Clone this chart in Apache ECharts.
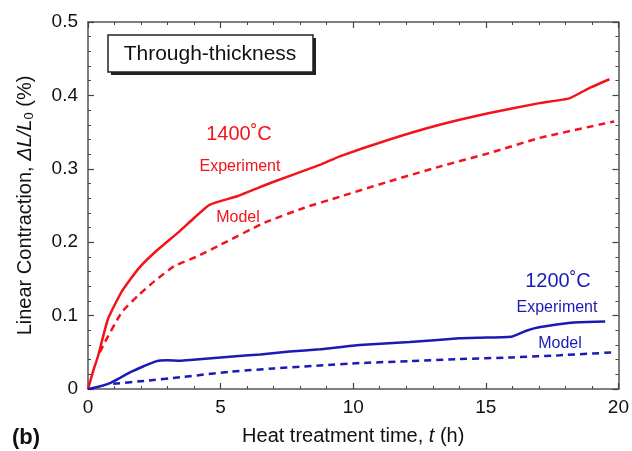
<!DOCTYPE html>
<html>
<head>
<meta charset="utf-8">
<script src="https://cdn.jsdelivr.net/npm/echarts@6/dist/echarts.min.js"></script>
<style>
  html, body { margin: 0; padding: 0; background: #fff; }
  #chart { width: 632px; height: 451px; }
</style>
</head>
<body>
<div id="chart"></div>
<script>
const myChart = echarts.init(document.getElementById("chart"));

// heat treatment time (h) and linear contraction (%)
const exp1400T = [0, 0.2, 0.38, 0.75, 1.26, 1.88, 2.51, 3.39, 4.0, 4.58, 5.65, 6.9, 8.79, 9.49, 11.37, 13.26, 15.14, 17.02, 18.15, 18.9, 19.66];
const exp1400V = [0, 0.025, 0.045, 0.095, 0.132, 0.163, 0.186, 0.213, 0.233, 0.251, 0.263, 0.281, 0.306, 0.317, 0.34, 0.36, 0.376, 0.3895, 0.396, 0.41, 0.422];

const mod1400T = [0.45, 0.565, 1.26, 1.88, 2.51, 3.26, 4.14, 5.02, 6.65, 8.16, 9.5, 11.37, 13.26, 15.14, 17.02, 19.84];
const mod1400V = [0.05, 0.0589, 0.104, 0.127, 0.147, 0.1676, 0.181, 0.197, 0.2265, 0.247, 0.262, 0.283, 0.303, 0.3215, 0.342, 0.3645];

const exp1200T = [0, 0.4, 0.83, 1.2, 1.58, 2.1, 2.59, 3.0, 3.47, 3.96, 5.35, 6.5, 7.6, 8.74, 10.24, 12.13, 14.0, 15.0, 16.0, 16.5, 17.0, 17.67, 18.5, 19.5];
const exp1200V = [0, 0.003, 0.008, 0.015, 0.0226, 0.031, 0.038, 0.039, 0.0385, 0.04, 0.044, 0.047, 0.051, 0.054, 0.0598, 0.064, 0.069, 0.07, 0.0716, 0.079, 0.084, 0.088, 0.091, 0.092];

const mod1200T = [0.95, 2.21, 3.47, 5.35, 7.0, 8.74, 10.24, 12.1, 14.0, 16.0, 17.8, 19.85];
const mod1200V = [0.007, 0.0113, 0.016, 0.0235, 0.028, 0.032, 0.0353, 0.038, 0.0408, 0.043, 0.046, 0.05];

const xTicks = [0, 5, 10, 15, 20];
const yTicks = [0, 0.1, 0.2, 0.3, 0.4, 0.5];

const RED = "#f2131b";
const BLUE = "#1a1ab4";
const FONT = "Liberation Sans";

const pairs = (t, v) => t.map((x, i) => [x, v[i]]);

const tickStyle = { inside: true, length: 6, lineStyle: { color: "#444", width: 1.2 } };
const minorStyle = { show: true, splitNumber: 5, length: 3, lineStyle: { color: "#444", width: 1 } };
const lineStyle = { show: true, onZero: false, lineStyle: { color: "#555", width: 1.5 } };

let option = {
  animation: false,
  grid: { left: 88, right: 13, top: 22, bottom: 61 },
  xAxis: [{
      type: "value",
      min: xTicks[0],
      max: xTicks[xTicks.length - 1],
      interval: 5,
      axisLine: lineStyle,
      axisTick: tickStyle,
      minorTick: minorStyle,
      splitLine: { show: false },
      axisLabel: { color: "#111", fontSize: 19, fontFamily: FONT, margin: 9 },
      name: "Heat treatment time, {i|t} (h)",
      nameLocation: "middle",
      nameGap: 37,
      nameTextStyle: {
        color: "#111", fontSize: 20, fontFamily: FONT,
        rich: { i: { fontStyle: "italic", fontSize: 20, fontFamily: FONT, color: "#111" } }
      }
    },
    {
      type: "value",
      position: "top",
      min: 0, max: 20, interval: 5,
      axisLine: lineStyle,
      axisTick: tickStyle,
      minorTick: minorStyle,
      splitLine: { show: false },
      axisLabel: { show: false }
    }
  ],
  yAxis: [{
      type: "value",
      min: yTicks[0],
      max: yTicks[yTicks.length - 1],
      interval: 0.1,
      axisLine: lineStyle,
      axisTick: tickStyle,
      minorTick: minorStyle,
      splitLine: { show: false },
      axisLabel: {
        color: "#111", fontSize: 19, fontFamily: FONT, margin: 10,
        formatter: v => v === 0 ? "0" : v.toFixed(1)
      },
      name: "Linear Contraction, {i|ΔL/L}{s|0} (%)",
      nameLocation: "middle",
      nameGap: 52,
      nameTextStyle: {
        color: "#111", fontSize: 20, fontFamily: FONT,
        rich: {
          i: { fontStyle: "italic", fontSize: 20, fontFamily: FONT, color: "#111" },
          s: { fontSize: 13, fontFamily: FONT, color: "#111", verticalAlign: "bottom", padding: [9, 0, 0, 0] }
        }
      }
    },
    {
      type: "value",
      position: "right",
      min: 0, max: 0.5, interval: 0.1,
      axisLine: lineStyle,
      axisTick: tickStyle,
      minorTick: minorStyle,
      splitLine: { show: false },
      axisLabel: { show: false }
    }
  ],
  graphic: [
    { type: "rect", shape: { x: 111, y: 38, width: 205, height: 37 }, style: { fill: "#222" } },
    { type: "rect", shape: { x: 108, y: 35, width: 205, height: 37 }, style: { fill: "#fff", stroke: "#222", lineWidth: 1.5 } },
    { type: "text", x: 210, y: 54, style: { text: "Through-thickness", fill: "#111", font: "21px " + FONT, textAlign: "center", textVerticalAlign: "middle" } },
    { type: "text", x: 239, y: 134, style: { text: "1400˚C", fill: RED, font: "20px " + FONT, textAlign: "center", textVerticalAlign: "middle" } },
    { type: "text", x: 240, y: 167, style: { text: "Experiment", fill: RED, font: "16px " + FONT, textAlign: "center", textVerticalAlign: "middle" } },
    { type: "text", x: 238, y: 218, style: { text: "Model", fill: RED, font: "16px " + FONT, textAlign: "center", textVerticalAlign: "middle" } },
    { type: "text", x: 558, y: 281, style: { text: "1200˚C", fill: BLUE, font: "20px " + FONT, textAlign: "center", textVerticalAlign: "middle" } },
    { type: "text", x: 557, y: 308, style: { text: "Experiment", fill: BLUE, font: "16px " + FONT, textAlign: "center", textVerticalAlign: "middle" } },
    { type: "text", x: 560, y: 344, style: { text: "Model", fill: BLUE, font: "16px " + FONT, textAlign: "center", textVerticalAlign: "middle" } },
    { type: "text", x: 12, y: 438, style: { text: "(b)", fill: "#111", font: "bold 22px " + FONT, textAlign: "left", textVerticalAlign: "middle" } }
  ],
  series: [{
      name: "1400 Experiment",
      type: "line",
      data: pairs(exp1400T, exp1400V),
      showSymbol: false,
      smooth: 0.15,
      lineStyle: { color: RED, width: 2.5 }
    },
    {
      name: "1400 Model",
      type: "line",
      data: pairs(mod1400T, mod1400V),
      showSymbol: false,
      smooth: 0.15,
      lineStyle: { color: RED, width: 2.5, type: [7, 5] }
    },
    {
      name: "1200 Experiment",
      type: "line",
      data: pairs(exp1200T, exp1200V),
      showSymbol: false,
      smooth: 0.15,
      lineStyle: { color: BLUE, width: 2.5 }
    },
    {
      name: "1200 Model",
      type: "line",
      data: pairs(mod1200T, mod1200V),
      showSymbol: false,
      smooth: 0.15,
      lineStyle: { color: BLUE, width: 2.5, type: [7, 5] }
    }
  ]
};

myChart.setOption(option);
</script>
</body>
</html>
